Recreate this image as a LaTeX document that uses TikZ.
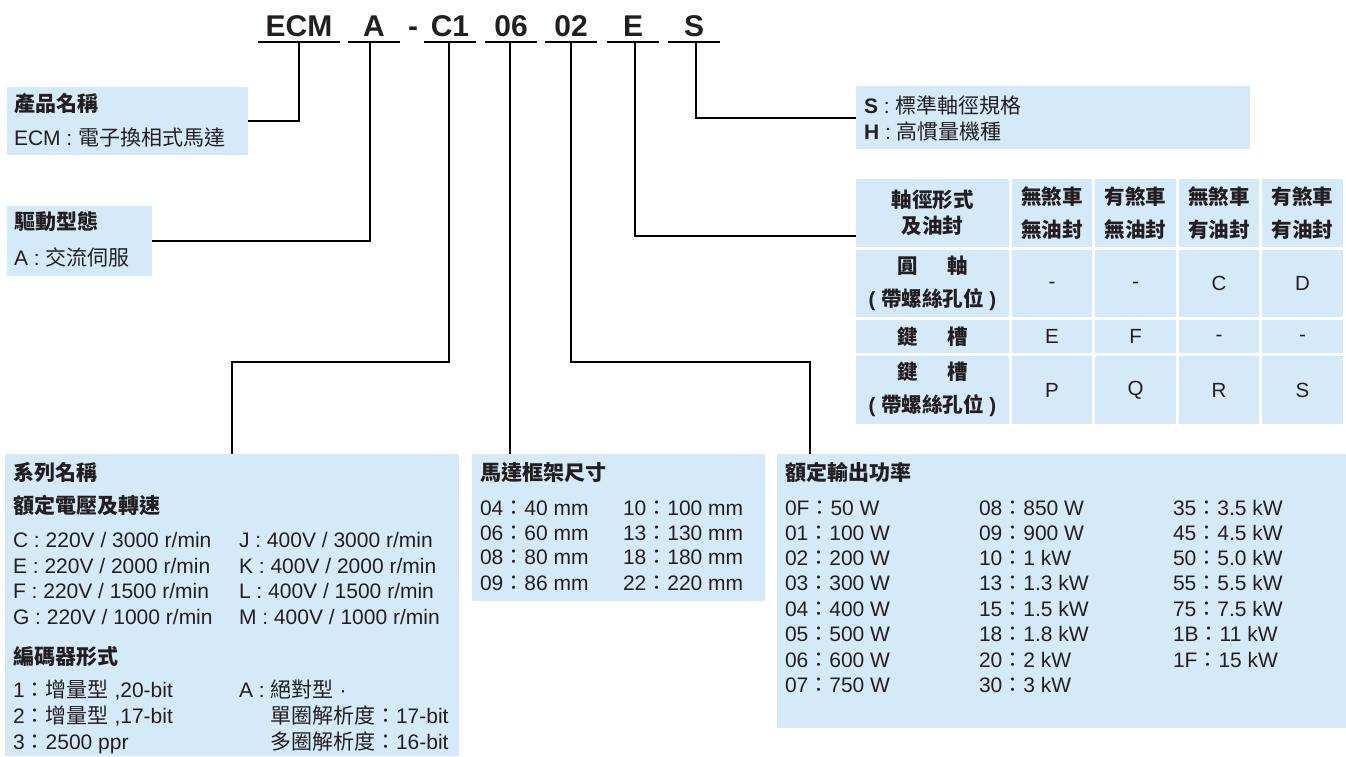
\documentclass[tikz,border=0pt]{standalone}
\usepackage{fontspec}
\usetikzlibrary{calc}
\setmainfont{Liberation Sans}
\newfontfamily\cjk{Noto Sans CJK TC}
\newcommand\zh[1]{{\cjk #1}}
\definecolor{boxblue}{HTML}{D5EAF8}
\definecolor{ink}{HTML}{231F20}
\begin{document}
\begin{tikzpicture}[x=1pt,y=-1pt,
  every node/.style={inner sep=0pt, outer sep=0pt, text=ink, font=\fontsize{21}{25}\selectfont},
  panel/.style={fill=boxblue, draw=none, anchor=north west},
  lbl/.style={anchor=base west},
  ttl/.style={anchor=base west, font=\fontsize{21}{25}\selectfont\bfseries},
  code/.style={anchor=south, text depth=6pt, font=\fontsize{30}{30}\selectfont\bfseries, minimum width=52pt},
  uline/.style={line width=2pt},
  conn/.style={line width=2pt},
  hdr/.style={align=center, font=\fontsize{20.5}{33}\selectfont\bfseries},
  val/.style={anchor=center, font=\fontsize{20.5}{25}\selectfont}
]
\useasboundingbox (0,0) rectangle (1346,756);

% ---------- code ----------
\node[code, minimum width=82pt] (ecm) at (299,42) {ECM};
\node[code] (ca) at (374,42) {A};
\node[code, minimum width=0pt] (cdash) at (413,42) {-};
\node[code] (cc1) at (450,42) {C1};
\node[code] (c06) at (511,42) {06};
\node[code] (c02) at (571,42) {02};
\node[code] (ce) at (633,42) {E};
\node[code] (cs) at (694,42) {S};
\foreach \n in {ecm,ca,cc1,c06,c02,ce,cs}
  \draw[uline] (\n.south west) -- (\n.south east);

% ---------- panels ----------
\node[panel, minimum width=241pt, minimum height=68pt] (b1) at (7,87) {};
\node[panel, minimum width=145pt, minimum height=70pt] (b2) at (7,206) {};
\node[panel, minimum width=394pt, minimum height=63pt] (bS) at (856,86) {};
\node[panel, minimum width=454pt, minimum height=302pt] (b3) at (5,454) {};
\node[panel, minimum width=293pt, minimum height=147pt] (b4) at (472,454) {};
\node[panel, minimum width=569pt, minimum height=274pt] (b5) at (777,454) {};

% ---------- connectors ----------
\coordinate (kE) at (856,236);
\coordinate (k02) at (810,454);
\draw[conn] (ecm.south) |- (b1.east);
\draw[conn] ($(ca.south)+(-4,0)$) |- (b2.east);
\draw[conn] ($(cs.south)+(2,0)$) |- (bS.west);
\draw[conn] ($(ce.south)+(2,0)$) |- (kE);
\draw[conn] ($(cc1.south)+(-1,0)$) -- ++(0,320) -| (b3.north);
\draw[conn] ($(c06.south)+(-1,0)$) -- ($(c06.south |- b4.north)+(-1,0)$);
\draw[conn] (c02.south) -- ++(0,320) -| (k02);

% ---------- box 1, 2, S ----------
\node[ttl] (t1a) at (14,111) {\zh{產品名稱}};
\node[lbl] (t1b) at (14,145) {ECM : \zh{電子換相式馬達}};
\node[ttl] (t2a) at (14,229) {\zh{驅動型態}};
\node[lbl] (t2b) at (14,265) {A : \zh{交流伺服}};
\node[lbl] (tSa) at (864,113) {\textbf{S} : \zh{標準軸徑規格}};
\node[lbl] (tSb) at (864,139) {\textbf{H} : \zh{高慣量機種}};

% ---------- table ----------
\foreach \ya/\yb in {179/247,250/317,320/353,356/424}
  \foreach \xa/\xb in {856/1009,1012/1092,1095/1176,1179/1259,1262/1343}
    \fill[boxblue] (\xa,\ya) rectangle (\xb,\yb);
\node[hdr, font=\fontsize{20.5}{26}\selectfont\bfseries] (h0) at (932.5,213) {\zh{軸徑形式}\\\zh{及油封}};
\node[hdr] (h1) at (1052,213) {\zh{無煞車}\\\zh{無油封}};
\node[hdr] (h2) at (1135.5,213) {\zh{有煞車}\\\zh{無油封}};
\node[hdr] (h3) at (1219,213) {\zh{無煞車}\\\zh{有油封}};
\node[hdr] (h4) at (1302.5,213) {\zh{有煞車}\\\zh{有油封}};
\node[hdr] (r1) at (932.5,283.5) {\zh{圓}\hspace{30pt}\zh{軸}\\( \zh{帶螺絲孔位} )};
\node[hdr] (r2) at (932.5,336.5) {\zh{鍵}\hspace{30pt}\zh{槽}};
\node[hdr] (r3) at (932.5,389.5) {\zh{鍵}\hspace{30pt}\zh{槽}\\( \zh{帶螺絲孔位} )};
\node[val] (v11) at (1052,285) {-};
\node[val] (v12) at (1135.5,285) {-};
\node[val] (v13) at (1219,283.5) {C};
\node[val] (v14) at (1302.5,283.5) {D};
\node[val] (v21) at (1052,336.5) {E};
\node[val] (v22) at (1135.5,336.5) {F};
\node[val] (v23) at (1219,338) {-};
\node[val] (v24) at (1302.5,338) {-};
\node[val] (v31) at (1052,390) {P};
\node[val] (v32) at (1135.5,390) {Q};
\node[val] (v33) at (1219,390) {R};
\node[val] (v34) at (1302.5,390) {S};

% ---------- box 3 ----------
\node[ttl] (t3a) at (13,480) {\zh{系列名稱}};
\node[ttl] (t3b) at (13,513) {\zh{額定電壓及轉速}};
\node[lbl] (t3c1) at (13,547) {C : 220V / 3000 r/min};
\node[lbl] (t3c2) at (13,573) {E : 220V / 2000 r/min};
\node[lbl] (t3c3) at (13,598) {F : 220V / 1500 r/min};
\node[lbl] (t3c4) at (13,624) {G : 220V / 1000 r/min};
\node[lbl] (t3d1) at (239,547) {J : 400V / 3000 r/min};
\node[lbl] (t3d2) at (239,573) {K : 400V / 2000 r/min};
\node[lbl] (t3d3) at (239,598) {L : 400V / 1500 r/min};
\node[lbl] (t3d4) at (239,624) {M : 400V / 1000 r/min};
\node[ttl] (t3e) at (13,664) {\zh{編碼器形式}};
\node[lbl] (t3f1) at (13,697) {1\zh{：增量型} ,20-bit};
\node[lbl] (t3f2) at (13,723) {2\zh{：增量型} ,17-bit};
\node[lbl] (t3f3) at (13,749) {3\zh{：}2500 ppr};
\node[lbl] (t3g1) at (239,697) {A : \zh{絕對型}\hspace{6pt}·};
\node[lbl] (t3g2) at (270,723) {\zh{單圈解析度：}17-bit};
\node[lbl] (t3g3) at (270,749) {\zh{多圈解析度：}16-bit};

% ---------- box 4 ----------
\node[ttl] (t4a) at (480,480) {\zh{馬達框架尺寸}};
\node[lbl] (t4b1) at (480,515) {04\zh{：}40 mm};
\node[lbl] (t4b2) at (480,540) {06\zh{：}60 mm};
\node[lbl] (t4b3) at (480,564) {08\zh{：}80 mm};
\node[lbl] (t4b4) at (480,590) {09\zh{：}86 mm};
\node[lbl] (t4c1) at (623,515) {10\zh{：}100 mm};
\node[lbl] (t4c2) at (623,540) {13\zh{：}130 mm};
\node[lbl] (t4c3) at (623,564) {18\zh{：}180 mm};
\node[lbl] (t4c4) at (623,590) {22\zh{：}220 mm};

% ---------- box 5 ----------
\node[ttl] (t5a) at (785,480) {\zh{額定輸出功率}};
\node[lbl] (p01) at (785,515) {0F\zh{：}50 W};
\node[lbl] (p02) at (785,540) {01\zh{：}100 W};
\node[lbl] (p03) at (785,565) {02\zh{：}200 W};
\node[lbl] (p04) at (785,590) {03\zh{：}300 W};
\node[lbl] (p05) at (785,616) {04\zh{：}400 W};
\node[lbl] (p06) at (785,641) {05\zh{：}500 W};
\node[lbl] (p07) at (785,667) {06\zh{：}600 W};
\node[lbl] (p08) at (785,692) {07\zh{：}750 W};
\node[lbl] (p11) at (979,515) {08\zh{：}850 W};
\node[lbl] (p12) at (979,540) {09\zh{：}900 W};
\node[lbl] (p13) at (979,565) {10\zh{：}1 kW};
\node[lbl] (p14) at (979,590) {13\zh{：}1.3 kW};
\node[lbl] (p15) at (979,616) {15\zh{：}1.5 kW};
\node[lbl] (p16) at (979,641) {18\zh{：}1.8 kW};
\node[lbl] (p17) at (979,667) {20\zh{：}2 kW};
\node[lbl] (p18) at (979,692) {30\zh{：}3 kW};
\node[lbl] (p21) at (1173,515) {35\zh{：}3.5 kW};
\node[lbl] (p22) at (1173,540) {45\zh{：}4.5 kW};
\node[lbl] (p23) at (1173,565) {50\zh{：}5.0 kW};
\node[lbl] (p24) at (1173,590) {55\zh{：}5.5 kW};
\node[lbl] (p25) at (1173,616) {75\zh{：}7.5 kW};
\node[lbl] (p26) at (1173,641) {1B\zh{：}11 kW};
\node[lbl] (p27) at (1173,667) {1F\zh{：}15 kW};
\end{tikzpicture}
\end{document}
